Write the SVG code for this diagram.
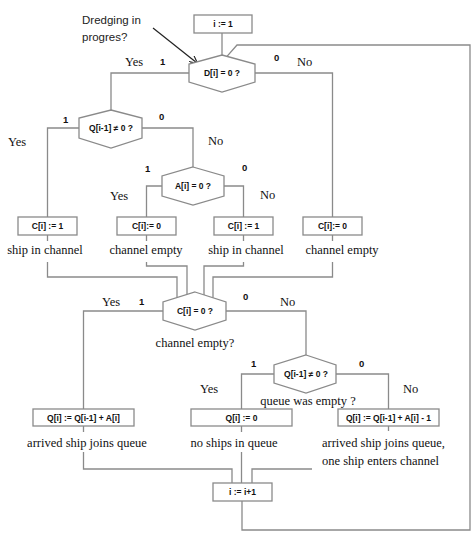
<svg xmlns="http://www.w3.org/2000/svg" width="474" height="533" viewBox="0 0 474 533">
<defs>
<style>
.ln{fill:none;stroke:#8a8a8a;stroke-width:1.3}
.bx{fill:#fff;stroke:#8a8a8a;stroke-width:1.3}
.bt{font-family:"Liberation Sans",Arial,sans-serif;font-weight:bold;font-size:8.5px;fill:#111;text-anchor:middle;dominant-baseline:central}
.sf{font-family:"Liberation Serif","Times New Roman",serif;font-size:12.5px;fill:#111}
.num{font-family:"Liberation Sans",Arial,sans-serif;font-weight:bold;font-size:9.5px;fill:#111}
.note{font-family:"Liberation Sans",Arial,sans-serif;font-size:11.5px;fill:#222}
</style>
<marker id="ah" viewBox="0 0 10 10" refX="9" refY="5" markerWidth="8" markerHeight="8" orient="auto" markerUnits="userSpaceOnUse">
<path d="M0,0 L10,5 L0,10" fill="none" stroke="#222" stroke-width="1.4"/>
</marker>
</defs>
<rect width="474" height="533" fill="#fff"/>

<g id="connectors">
<path class="ln" d="M222,33 V55"/>
<path class="ln" d="M227,56.4 L237,45 H470 V530 H242 V501"/>
<path class="ln" d="M189,73 H111 V110"/>
<path class="ln" d="M255,73 H332.5 V217"/>
<path class="ln" d="M79,128 H47.5 V217"/>
<path class="ln" d="M142,128 H193 V167"/>
<path class="ln" d="M162,186 H146.5 V217"/>
<path class="ln" d="M224,186 H243.5 V217"/>
<path class="ln" d="M47.5,235 V241 M146.5,235 V241 M243.5,235 V241 M332.5,235 V241"/>
<path class="ln" d="M47.5,262 V277 H177 V297.6"/>
<path class="ln" d="M146.5,262 V266 H187 V294.5"/>
<path class="ln" d="M243.5,262 V266 H204 V294.9"/>
<path class="ln" d="M332.5,262 V277 H213 V297.8"/>
<path class="ln" d="M163,311 H83.5 V409"/>
<path class="ln" d="M226,311 H306 V355"/>
<path class="ln" d="M274,374 H241.5 V409"/>
<path class="ln" d="M336,374 H388.5 V409"/>
<path class="ln" d="M83.5,426 V432 M241.5,426 V432 M388.5,426 V431"/>
<path class="ln" d="M83.5,452 V469 H232 V483"/>
<path class="ln" d="M241.5,452 V483"/>
<path class="ln" d="M312,469 H252 V483"/>
<line x1="153" y1="28" x2="197" y2="63" stroke="#222" stroke-width="1.2" marker-end="url(#ah)"/>
</g>

<g id="note">
<text class="note" x="82" y="24">Dredging in</text>
<text class="note" x="82" y="41">progres?</text>
</g>

<g id="start">
<rect class="bx" x="194" y="15" width="58" height="18"/>
<text class="bt" x="223" y="24">i := 1</text>
</g>

<g id="dec-D">
<polygon class="bx" points="222,55 255,64 255,82 222,92 189,82 189,64"/>
<text class="bt" x="222" y="73">D[i] = 0 ?</text>
<text class="sf" x="125" y="66">Yes</text>
<text class="num" x="160" y="65">1</text>
<text class="num" x="274" y="61">0</text>
<text class="sf" x="297" y="66">No</text>
</g>

<g id="dec-Q1">
<polygon class="bx" points="111,110 142,118 142,138 111,148 79,138 79,118"/>
<text class="bt" x="111" y="128">Q[i-1] ≠ 0 ?</text>
<text class="num" x="63" y="123">1</text>
<text class="num" x="159" y="120">0</text>
<text class="sf" x="8" y="146">Yes</text>
<text class="sf" x="208" y="145">No</text>
</g>

<g id="dec-A">
<polygon class="bx" points="193,167 224,176 224,196 193,205 162,196 162,176"/>
<text class="bt" x="193" y="186">A[i] = 0 ?</text>
<text class="num" x="145" y="172">1</text>
<text class="num" x="242" y="171">0</text>
<text class="sf" x="110" y="200">Yes</text>
<text class="sf" x="260" y="199">No</text>
</g>

<g id="box-C1">
<rect class="bx" x="18" y="217" width="59" height="18"/>
<text class="bt" x="47.5" y="226">C[i] := 1</text>
<text class="sf" x="45" y="254" text-anchor="middle">ship in channel</text>
</g>
<g id="box-C2">
<rect class="bx" x="117" y="217" width="59" height="18"/>
<text class="bt" x="146.5" y="226">C[i]:= 0</text>
<text class="sf" x="146" y="254" text-anchor="middle">channel empty</text>
</g>
<g id="box-C3">
<rect class="bx" x="214" y="217" width="59" height="18"/>
<text class="bt" x="243.5" y="226">C[i] := 1</text>
<text class="sf" x="246" y="254" text-anchor="middle">ship in channel</text>
</g>
<g id="box-C4">
<rect class="bx" x="303" y="217" width="59" height="18"/>
<text class="bt" x="332.5" y="226">C[i]:= 0</text>
<text class="sf" x="342" y="254" text-anchor="middle">channel empty</text>
</g>

<g id="dec-C">
<polygon class="bx" points="195,292 226,302 226,320 195,330 163,320 163,302"/>
<text class="bt" x="195" y="311">C[i] = 0 ?</text>
<text class="sf" x="102" y="306">Yes</text>
<text class="num" x="139" y="305">1</text>
<text class="num" x="243" y="300">0</text>
<text class="sf" x="280" y="306">No</text>
<text class="sf" x="195" y="347" text-anchor="middle">channel empty?</text>
</g>

<g id="dec-Q2">
<polygon class="bx" points="306,355 336,365 336,383 306,393 274,383 274,365"/>
<text class="bt" x="306" y="374">Q[i-1] ≠ 0 ?</text>
<text class="num" x="251" y="367">1</text>
<text class="num" x="359" y="367">0</text>
<text class="sf" x="200" y="393">Yes</text>
<text class="sf" x="403" y="393">No</text>
<text class="sf" x="308" y="405" text-anchor="middle">queue was empty ?</text>
</g>

<g id="box-Q1">
<rect class="bx" x="33" y="409" width="101" height="17"/>
<text class="bt" x="83.5" y="417.5">Q[i] := Q[i-1] + A[i]</text>
<text class="sf" x="87" y="447" text-anchor="middle">arrived ship joins queue</text>
</g>
<g id="box-Q2">
<rect class="bx" x="191" y="409" width="101" height="17"/>
<text class="bt" x="241.5" y="417.5">Q[i] := 0</text>
<text class="sf" x="234" y="447" text-anchor="middle">no ships in queue</text>
</g>
<g id="box-Q3">
<rect class="bx" x="338" y="409" width="101" height="17"/>
<text class="bt" x="388.5" y="417.5">Q[i] := Q[i-1] + A[i] - 1</text>
<text class="sf" x="322" y="447">arrived ship joins queue,</text>
<text class="sf" x="322" y="465">one ship enters channel</text>
</g>

<g id="inc">
<rect class="bx" x="213" y="483" width="59" height="18"/>
<text class="bt" x="242.5" y="492">i := i+1</text>
</g>
</svg>
